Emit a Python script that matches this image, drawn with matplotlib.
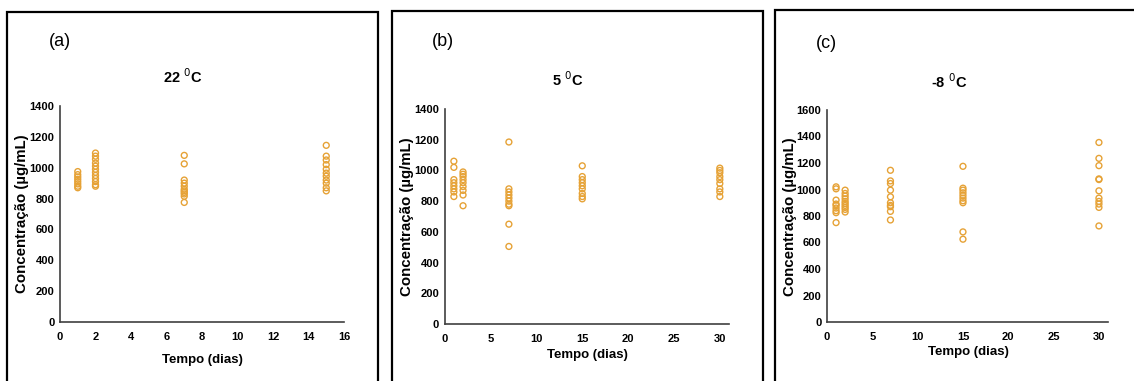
import matplotlib
matplotlib.use("Agg")
import matplotlib.pyplot as plt
from matplotlib.patches import Rectangle

# day / concentration readings for each storage temperature
days_a = [1] * 8 + [2] * 12 + [7] * 11 + [15] * 11
conc_a = [975, 955, 940, 925, 910, 895, 880, 870,
          1095, 1075, 1055, 1030, 1010, 990, 970, 950, 930, 910, 890, 880,
          1080, 1025, 920, 900, 880, 860, 850, 840, 830, 815, 775,
          1145, 1075, 1050, 1020, 990, 965, 945, 920, 900, 870, 850]

days_b = [1] * 8 + [2] * 9 + [7] * 10 + [15] * 9 + [30] * 9
conc_b = [1060, 1020, 940, 920, 900, 880, 860, 830,
          990, 975, 960, 940, 920, 895, 870, 840, 770,
          1185, 880, 860, 840, 820, 800, 780, 770, 650, 505,
          1030, 960, 940, 920, 900, 880, 850, 830, 815,
          1015, 1000, 985, 960, 940, 915, 880, 860, 830]

days_c = [1] * 9 + [2] * 10 + [7] * 10 + [15] * 10 + [30] * 11
conc_c = [1020, 1005, 920, 890, 880, 860, 840, 825, 750,
          995, 970, 950, 930, 910, 895, 880, 865, 850, 830,
          1145, 1065, 1045, 995, 945, 900, 880, 870, 835, 770,
          1175, 1010, 995, 975, 955, 935, 915, 900, 680, 625,
          1355, 1235, 1180, 1080, 1075, 990, 935, 910, 890, 865, 725]

panel_tags = ["(a)", "(b)", "(c)"]
titles = ["22 $^{0}$C", "5 $^{0}$C", "-8 $^{0}$C"]
xlims = [16, 31, 31]
xticks = [list(range(0, 17, 2)), list(range(0, 31, 5)), list(range(0, 31, 5))]
ylims = [1400, 1400, 1600]

W, H = 1134, 381
font = ["Liberation Sans", "DejaVu Sans"]
orange = "#E6A236"

fig = plt.figure(figsize=(W / 100, H / 100), dpi=100)

def fx(px):
    return px / W

def fy(py):
    return 1 - py / H

# panel frames in pixels: left, top, right (they run off the bottom)
frames = [(7, 12, 378), (392, 11, 763), (775, 10, 1136)]
for l, t, r in frames:
    fig.patches.append(Rectangle((fx(l), fy(H + 5)), fx(r - l), (H + 5 - t) / H,
                                 transform=fig.transFigure, fill=False,
                                 edgecolor="black", linewidth=1.6))

# axes boxes in pixels: left, right, bottom, top
boxes = [(60, 344, 322, 106), (444.7, 729, 324, 109), (827, 1108, 322, 110)]
tag_pos = [(60, 42), (443, 42), (826, 43)]
title_pos = [(183, 77), (568, 80), (949, 82)]
ylab_pos = [(22, 214), (407, 217), (790, 217)]
xlab_pos = [(202, 360), (587, 355), (968, 352)]

data = [(days_a, conc_a), (days_b, conc_b), (days_c, conc_c)]

for i in range(3):
    l, r, b, t = boxes[i]
    ax = fig.add_axes([fx(l), fy(b), fx(r - l), (b - t) / H])
    d, c = data[i]
    ax.scatter(d, c, s=18, facecolors="none", edgecolors=orange, linewidths=1.0, zorder=3)
    ax.set_xlim(0, xlims[i])
    ax.set_ylim(0, ylims[i])
    ax.set_xticks(xticks[i])
    ax.set_yticks(list(range(0, ylims[i] + 1, 200)))
    for s in ["top", "right"]:
        ax.spines[s].set_visible(False)
    for s in ["left", "bottom"]:
        ax.spines[s].set_color("#404040")
        ax.spines[s].set_linewidth(1.2)
    ax.tick_params(axis="y", length=0, pad=4)
    ax.tick_params(axis="x", length=0, pad=7)
    for lab in ax.get_xticklabels() + ax.get_yticklabels():
        lab.set_family(font)
        lab.set_fontsize(8)
        lab.set_fontweight("bold")
    ax.patch.set_alpha(0)

    fig.text(fx(tag_pos[i][0]), fy(tag_pos[i][1]), panel_tags[i], ha="center", va="center",
             fontsize=13, family=font)
    fig.text(fx(title_pos[i][0]), fy(title_pos[i][1]), titles[i], ha="center", va="center",
             fontsize=10.5, fontweight="bold", family=font)
    fig.text(fx(ylab_pos[i][0]), fy(ylab_pos[i][1]), "Concentração (µg/mL)", rotation=90,
             ha="center", va="center", fontsize=10.8, fontweight="bold", family=font)
    fig.text(fx(xlab_pos[i][0]), fy(xlab_pos[i][1]), "Tempo (dias)", ha="center", va="center",
             fontsize=9.5, fontweight="bold", family=font)

fig.savefig("out.png", dpi=100)
